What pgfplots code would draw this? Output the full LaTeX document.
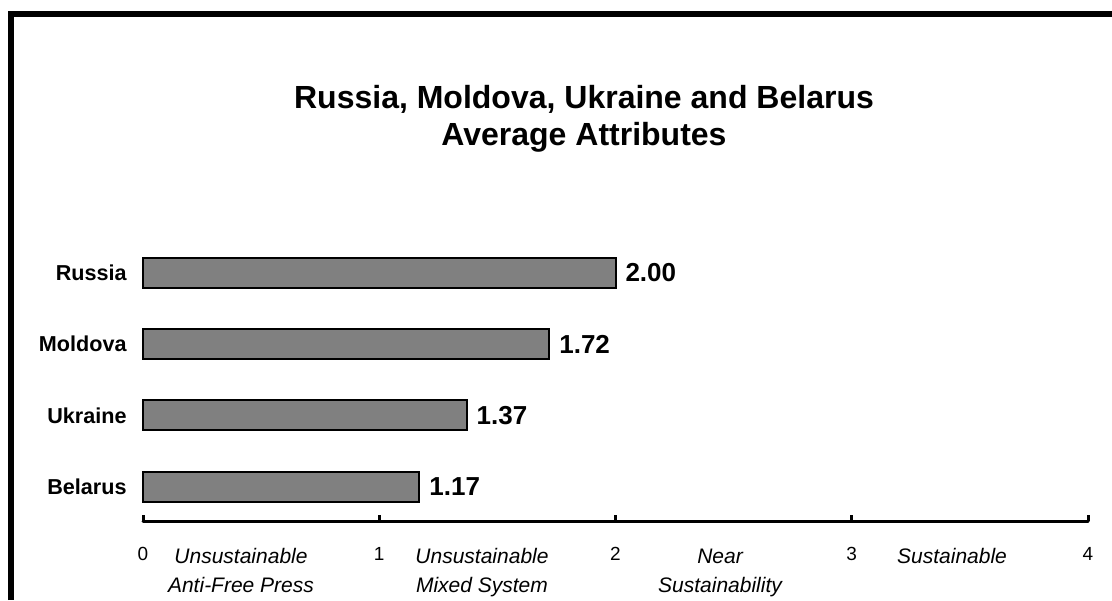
\documentclass[border=0pt]{standalone}
\usepackage{pgfplots}
\usepackage{pgfplotstable}
\pgfplotsset{compat=1.18}
\usepackage{fontspec}
\setmainfont{Liberation Sans}

% average attribute score per country (0 = Belarus at the bottom)
\pgfplotstableread{
pos score
0 1.17
1 1.37
2 1.72
3 2.00
}\scores

\definecolor{barfill}{RGB}{128,128,128}

\begin{document}
\begin{tikzpicture}
\path[use as bounding box] (0,0) rectangle (556pt,300pt);

\begin{axis}[
  at={(71.5pt,39.5pt)}, anchor=south west,
  scale only axis, width=472.5pt, height=142pt,
  xmin=0, xmax=4, ymin=-0.48, ymax=3.5,
  xbar, bar width=15pt, bar shift=0pt,
  axis x line*=bottom, axis y line*=left,
  y axis line style={draw=none},
  x axis line style={line width=1.5pt, line cap=round},
  xtick={0,1,2,3,4},
  tick align=inside, major tick length=3pt,
  x tick style={line width=1.5pt, black},
  ytick={0,1,2,3}, yticklabels={Belarus,Ukraine,Moldova,Russia},
  y tick style={draw=none},
  /pgf/number format/assume math mode=true,
  xticklabel style={font=\fontsize{9.5}{11}\selectfont, inner sep=0pt, yshift=-13pt},
  yticklabel style={font=\bfseries\fontsize{10.8}{12}\selectfont, anchor=east, inner sep=0pt, xshift=-8pt},
  nodes near coords={\pgfmathprintnumber[fixed,fixed zerofill,precision=2,assume math mode=true]{\pgfplotspointmeta}},
  nodes near coords style={font=\bfseries\fontsize{13}{15}\selectfont, anchor=west, inner sep=0pt, xshift=4.5pt},
  clip=false,
]
\addplot[fill=barfill, draw=black, line width=1pt] table[x=score, y=pos] {\scores};
\end{axis}

% frame, title and band names, placed in a pixel-like grid (origin top left)
\begin{scope}[x=0.5pt, y=-0.5pt, shift={(0,300pt)}]
\draw[line width=3pt, line join=miter] (11,600) -- (11,14) -- (1112,14);

\node[anchor=base, inner sep=0pt, font=\bfseries\fontsize{16}{18}\selectfont] at (584,109) {Russia, Moldova, Ukraine and Belarus};
\node[anchor=base, inner sep=0pt, font=\bfseries\fontsize{16}{18}\selectfont] at (584,146) {Average Attributes};

\begin{scope}[every node/.style={anchor=base, inner sep=0pt, font=\itshape\fontsize{10.5}{12}\selectfont}]
\node at (241,563) {Unsustainable};
\node at (241,592) {Anti-Free Press};
\node at (482,563) {Unsustainable};
\node at (482,592) {Mixed System};
\node at (720,563) {Near};
\node at (720,592) {Sustainability};
\node at (952,563) {Sustainable};
\end{scope}
\end{scope}
\end{tikzpicture}
\end{document}
